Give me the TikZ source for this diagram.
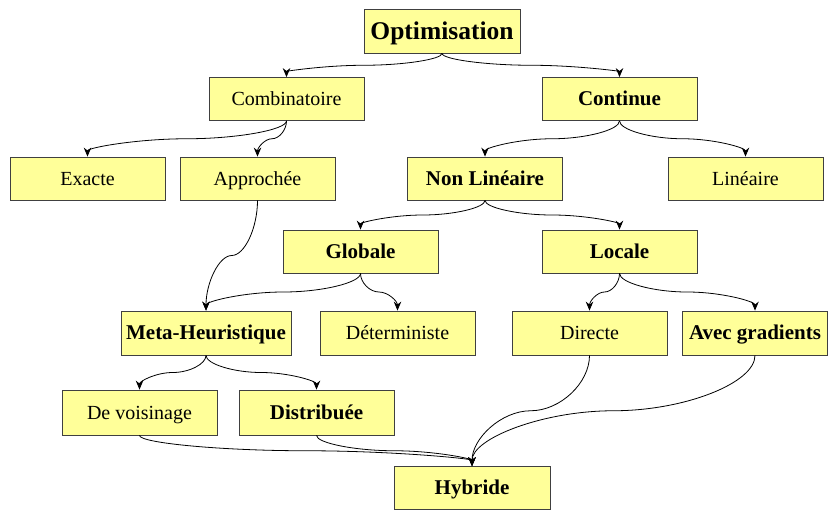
\documentclass[tikz,border=0pt]{standalone}
\usepackage{fontspec}
\setmainfont{Liberation Serif}
\usetikzlibrary{arrows.meta,calc}
\definecolor{boxfill}{HTML}{FFFF99}
\definecolor{boxline}{HTML}{404040}
\tikzset{
  box/.style={draw=boxline, fill=boxfill, line width=0.8pt,
    minimum width=155pt, minimum height=43pt, inner sep=0pt,
    text height=16pt, text depth=2.6pt,
    font=\fontsize{20}{22}\selectfont},
  boldbox/.style={box, text height=16.5pt, text depth=2.6pt,
    font=\fontsize{21}{23}\selectfont\bfseries},
  % curved elbow connector: vertical start, horizontal middle, vertical end
  conn/.style={line width=0.8pt, -{Stealth[length=9pt,width=7.5pt]},
    to path={let \p1=(\tikztostart), \p2=(\tikztotarget),
      \p3=({(\x1+\x2)/2},{(\y1+\y2)/2}) in
      .. controls (\x1,{(\y1+\y3)/2}) and ({\x1+(\x2-\x1)/4},\y3) .. (\p3)
      .. controls ({\x1+3*(\x2-\x1)/4},\y3) and (\x2,{(\y3+\y2)/2}) .. (\tikztotarget)}}
}
\begin{document}
\begin{tikzpicture}[x=1pt,y=-1pt]
\useasboundingbox (0,0) rectangle (829,509);

\node[boldbox, minimum width=156pt, minimum height=44pt,
      text height=19pt, text depth=2.2pt,
      font=\fontsize{25.5}{28}\selectfont\bfseries] (opt) at (442,31) {Optimisation};
\node[box] (comb) at (286.5,99) {Combinatoire};
\node[boldbox] (cont) at (619.5,99) {Continue};
\node[box] (exa) at (87.5,178.5) {Exacte};
\node[box] (app) at (257.5,178.5) {Approchée};
\node[boldbox] (nl) at (485,178.5) {Non Linéaire};
\node[box] (lin) at (745.5,178.5) {Linéaire};
\node[boldbox] (glob) at (360.5,251.5) {Globale};
\node[boldbox] (loc) at (619.5,251.5) {Locale};
\node[boldbox, minimum width=170pt, minimum height=44pt] (meta) at (206,333) {Meta-Heuristique};
\node[box, minimum height=44pt] (det) at (397.5,333) {Déterministe};
\node[box, minimum height=44pt] (dir) at (589.5,333) {Directe};
\node[boldbox, minimum width=145pt, minimum height=44pt] (grad) at (755,333) {Avec gradients};
\node[box, minimum height=45pt] (vois) at (139.5,412.5) {De voisinage};
\node[boldbox, minimum height=45pt] (dist) at (316.5,412.5) {Distribuée};
\node[boldbox, minimum width=156pt] (hyb) at (472,488) {Hybride};

\draw[conn] (opt.south) to (comb.north);
\draw[conn] (opt.south) to (cont.north);
\draw[conn] (comb.south) to (exa.north);
\draw[conn] (comb.south) to (app.north);
\draw[conn] (cont.south) to (nl.north);
\draw[conn] (cont.south) to (lin.north);
\draw[conn] (nl.south) to (glob.north);
\draw[conn] (nl.south) to (loc.north);
\draw[conn] (app.south) to (meta.north);
\draw[conn] (glob.south) to (meta.north);
\draw[conn] (glob.south) to (det.north);
\draw[conn] (loc.south) to (dir.north);
\draw[conn] (loc.south) to (grad.north);
\draw[conn] (meta.south) to (vois.north);
\draw[conn] (meta.south) to (dist.north);
\draw[conn] (vois.south) to (hyb.north);
\draw[conn] (dist.south) to (hyb.north);
\draw[conn] (dir.south) to (hyb.north);
\draw[conn] (grad.south) to (hyb.north);
\end{tikzpicture}
\end{document}
